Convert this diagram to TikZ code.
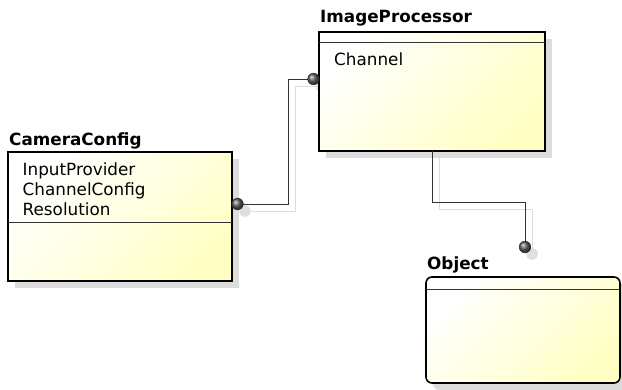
\documentclass[tikz,border=0pt]{standalone}
\usepackage{fontspec}
\setmainfont{DejaVu Sans}
\usetikzlibrary{calc}
\definecolor{boxyellow}{HTML}{FFFFC4}
\definecolor{shadowgray}{HTML}{DCDCDC}
\definecolor{wiregray}{HTML}{333333}
\tikzset{
  classbox/.style={draw=black, line width=1.6pt, inner sep=0pt, outer sep=0pt,
    top color=white, bottom color=boxyellow, shading angle=45, anchor=north west},
  boxshadow/.style={fill=shadowgray, draw=none, inner sep=0pt, outer sep=0pt, anchor=north west},
  divider/.style={draw=wiregray, line width=0.9pt},
  titletext/.style={font=\fontsize{16.8}{20}\selectfont\bfseries, anchor=base west, inner sep=0pt},
  membertext/.style={font=\fontsize{16.8}{20}\selectfont, anchor=base west, inner sep=0pt},
  wire/.style={draw=wiregray, line width=1pt},
  wireshadow/.style={draw=shadowgray, line width=1pt},
  knob/.style={ball color=gray!75!black, draw=black!85, line width=0.5pt},
  knobshadow/.style={fill=shadowgray!90, draw=none},
}
\begin{document}
\begin{tikzpicture}[x=1pt, y=-1pt]
\useasboundingbox (0,0) rectangle (622,389);

% --- shadows of the boxes
\node[boxshadow, minimum width=224pt, minimum height=129pt] (camsh) at (15,159) {};
\node[boxshadow, minimum width=226pt, minimum height=119pt] (ipsh) at (326,39) {};
\node[boxshadow, minimum width=194pt, minimum height=106pt, rounded corners=6pt] (objsh) at (433,284) {};

% --- shadow wires and shadow knobs
\coordinate (kcs) at (245,211);
\coordinate (kis) at (321.5,86);
\coordinate (kos) at (532,254);
\draw[wireshadow] (kcs) -- (295.5,211) -- (295.5,86) -- (kis);
\draw[wireshadow] (439,158) -- (439,209) -- (532,209) -- (kos);
\fill[knobshadow] (kcs) circle (5.8);
\fill[knobshadow] (kis) circle (5.8);
\fill[knobshadow] (kos) circle (5.8);

% --- CameraConfig
\node[classbox, minimum width=224pt, minimum height=129pt] (cam) at (8,152) {};
\draw[divider] ($(cam.north west)+(0,70.5)$) coordinate (camdl) -- (camdl -| cam.east);
\node[titletext] (camtitle) at (9,145) {CameraConfig};
\node[membertext] (cam1) at (22.5,175) {InputProvider};
\node[membertext] (cam2) at (22.5,195) {ChannelConfig};
\node[membertext] (cam3) at (22.5,215) {Resolution};

% --- ImageProcessor
\node[classbox, minimum width=226pt, minimum height=119pt] (ip) at (319,32) {};
\draw[divider] ($(ip.north west)+(0,10.5)$) coordinate (ipdl) -- (ipdl -| ip.east);
\node[titletext] (iptitle) at (320,22.5) {ImageProcessor};
\node[membertext] (ip1) at (334,65) {Channel};

% --- Object
\node[classbox, minimum width=194pt, minimum height=106pt, rounded corners=6pt] (obj) at (426,277) {};
\draw[divider] ($(obj.north west)+(0,12)$) coordinate (objdl) -- (objdl -| obj.east);
\node[titletext] (objtitle) at (427,269.5) {Object};

% --- connectors
\coordinate (kc) at (237.5,204);
\coordinate (ki) at (313.5,79);
\coordinate (ko) at (525,247);
\coordinate (ipfoot) at (432,151);
\draw[wire] (kc) -- (288.5,204) -- (288.5,79) -- (ki);
\draw[wire] (ipfoot) -- (432,202) -- (525,202) -- (ko);
\shade[knob] (kc) circle (5.8);
\shade[knob] (ki) circle (5.8);
\shade[knob] (ko) circle (5.8);
\end{tikzpicture}
\end{document}
